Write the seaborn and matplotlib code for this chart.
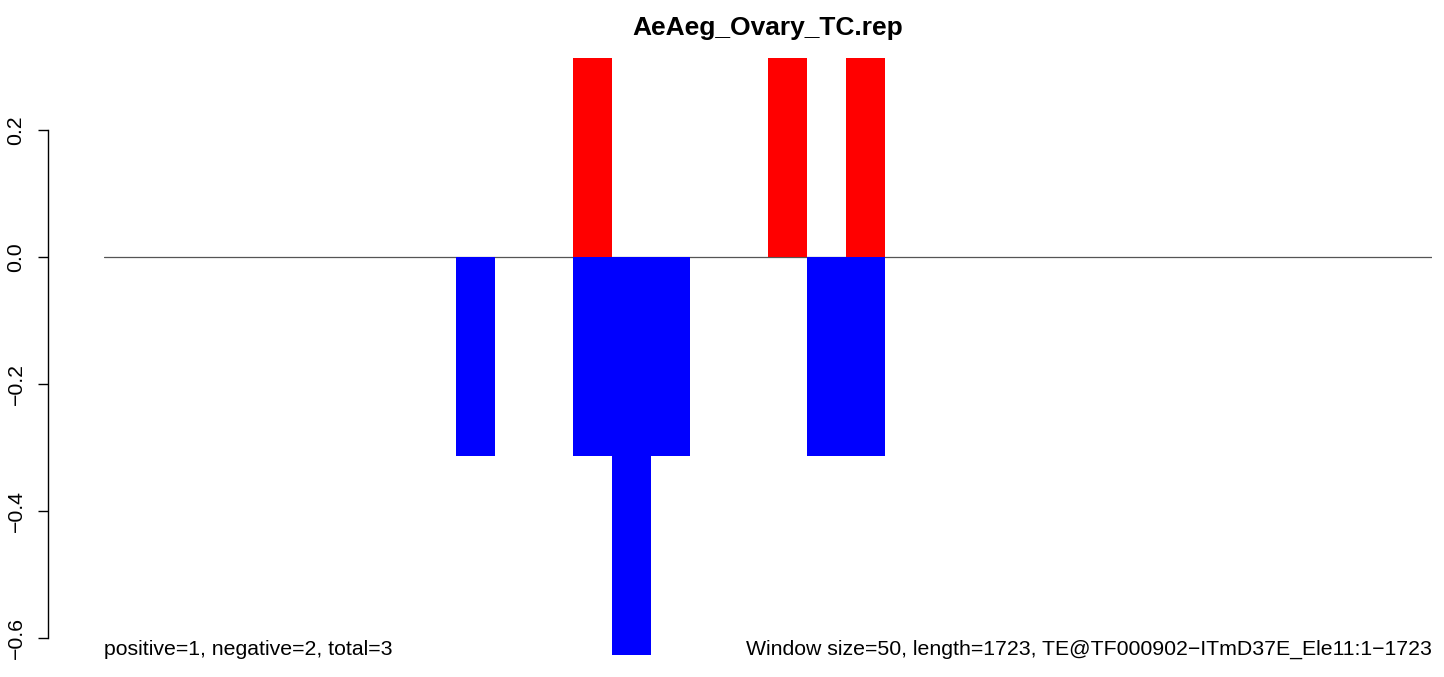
import pandas as pd
import matplotlib
matplotlib.use("Agg")
import matplotlib.pyplot as plt
import seaborn as sns

# window bins (50 bp each) and per-strand signal
bins = list(range(34))
pos_bins = [12, 17, 19]
pos_vals = [0.3134, 0.3134, 0.3134]
neg_bins = [9, 12, 13, 14, 18, 19]
neg_vals = [-0.3134, -0.3134, -0.6268, -0.3134, -0.3134, -0.3134]

title = "AeAeg_Ovary_TC.rep"
left_note = "positive=1, negative=2, total=3"
right_note = "Window size=50, length=1723, TE@TF000902\u2212ITmD37E_Ele11:1\u22121723"
ytick_vals = [-0.6, -0.4, -0.2, 0.0, 0.2]
ytick_labels = ['\u22120.6', '\u22120.4', '\u22120.2', '0.0', '0.2']

pos = dict(zip(pos_bins, pos_vals))
neg = dict(zip(neg_bins, neg_vals))
df = pd.DataFrame({
    'x': [b + 0.5 for b in bins] * 2,
    'val': [pos.get(b, 0.0) for b in bins] + [neg.get(b, 0.0) for b in bins],
    'strand': ['pos'] * len(bins) + ['neg'] * len(bins),
})

sns.set_style("white")
plt.rcParams['font.family'] = ['Liberation Sans', 'DejaVu Sans']
plt.rcParams['text.color'] = 'black'

fig = plt.figure(figsize=(14.44, 6.77), dpi=100)
ax = fig.add_axes([104 / 1444, 1 - 655 / 677, 1328 / 1444, 597 / 677])

sns.barplot(data=df, x='x', y='val', hue='strand', native_scale=True, dodge=False,
            palette={'pos': '#FF0000', 'neg': '#0000FF'}, width=1.0, saturation=1,
            linewidth=0, legend=False, ax=ax, zorder=2)
ax.axhline(0, color='#555555', lw=0.9, zorder=1)

ax.set_xlim(0, 34)
ax.set_ylim(-0.627, 0.3134)
ax.set_xlabel('')
ax.set_ylabel('')
ax.set_xticks([])
for s in ['top', 'right', 'bottom']:
    ax.spines[s].set_visible(False)
ax.spines['left'].set_position(('outward', 40))
ax.spines['left'].set_bounds(-0.6, 0.2)
ax.spines['left'].set_color('black')
ax.spines['left'].set_linewidth(1.0)
ax.tick_params(axis='y', left=True, length=7.5, width=1.0, color='black', pad=9,
               labelcolor='black', labelsize=15.3, labelrotation=90)
ax.set_yticks(ytick_vals)
ax.set_yticklabels(ytick_labels)
for lab in ax.get_yticklabels():
    lab.set_va('center')

fig.text(768 / 1444, 1 - 28 / 677, title, ha='center', va='center', fontsize=19, fontweight='bold')
ax.text(0, 0, left_note, transform=ax.transAxes, ha='left', va='baseline', fontsize=15.3)
ax.text(1, 0, right_note, transform=ax.transAxes, ha='right', va='baseline', fontsize=15.3)

fig.savefig("out.png", dpi=100)
